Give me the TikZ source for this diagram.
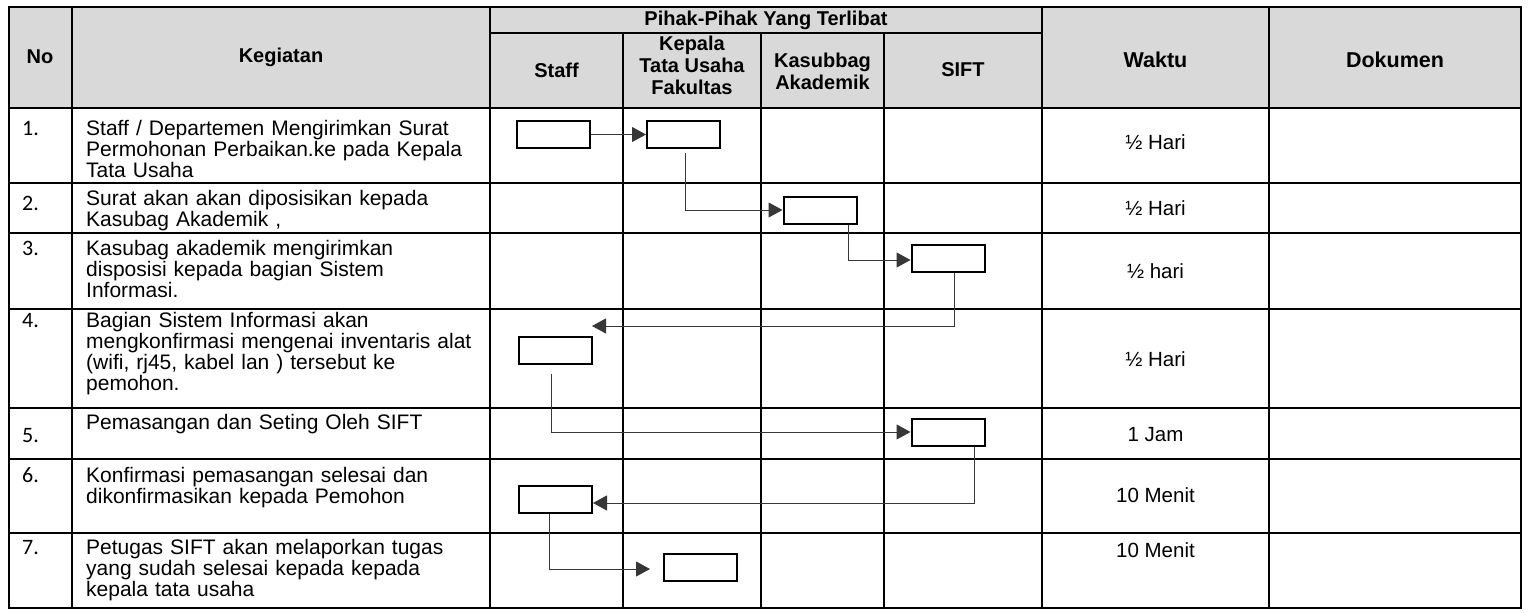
\documentclass[tikz,border=0pt]{standalone}
\usepackage{fontspec}
\setmainfont{Liberation Sans}
\newfontfamily\numfont{Carlito}
\usetikzlibrary{arrows.meta}
\definecolor{hdrgray}{RGB}{217,217,217}
\definecolor{conncol}{RGB}{55,55,55}
\begin{document}
\begin{tikzpicture}[x=1pt,y=-1pt,
  grid/.style={line width=2pt,black,line cap=rect},
  stepbox/.style={draw=black,line width=2pt,minimum width=73pt,minimum height=27pt,inner sep=0pt,fill=white},
  conn/.style={draw=conncol,line width=1pt},
  arr/.style={-{Triangle[length=14pt,width=15pt]}},
  rowtext/.style={anchor=base west,inner sep=0pt,text width=420pt,align=left,font=\fontsize{21}{21}\selectfont},
  numtext/.style={anchor=base west,inner sep=0pt,font=\numfont\fontsize{22}{22}\selectfont},
  hdr/.style={font=\bfseries\fontsize{20}{22}\selectfont,align=center,inner sep=0pt},
  hdrbig/.style={font=\bfseries\fontsize{21.5}{22}\selectfont,align=center,inner sep=0pt},
  wtext/.style={anchor=base,inner sep=0pt,font=\fontsize{20.5}{21}\selectfont}
]
\useasboundingbox (0,0) rectangle (1540,613);
\fill[white] (0,0) rectangle (1540,613);
\fill[hdrgray] (9,7) rectangle (1521,108);

% grid
\foreach \yy in {7,108,183,233,309,408,459,533,608}
  \draw[grid] (9,\yy) -- (1521,\yy);
\draw[grid] (490,33) -- (1042,33);
\foreach \xx in {9,72,490,1042,1269,1521}
  \draw[grid] (\xx,7) -- (\xx,608);
\foreach \xx in {623,761,884}
  \draw[grid] (\xx,33) -- (\xx,608);

% header
\node[hdr] (hno) at (40,57) {No};
\node[hdr] (hkeg) at (281,57) {Kegiatan};
\node[hdr] (hpihak) at (766,20) {Pihak-Pihak Yang Terlibat};
\node[hdr] (hstaff) at (556.5,70) {Staff};
\node[hdr] (hkepala) at (692,65.5) {Kepala\\Tata Usaha\\Fakultas};
\node[hdr] (hkasub) at (822.5,71) {Kasubbag\\Akademik};
\node[hdr] (hsift) at (963,70) {SIFT};
\node[hdrbig] (hwaktu) at (1155.5,60) {Waktu};
\node[hdrbig] (hdok) at (1395,60) {Dokumen};

% numbers
\node[numtext] (n1) at (22,135.5) {1.};
\node[numtext] (n2) at (22,210.5) {2.};
\node[numtext] (n3) at (22,255.5) {3.};
\node[numtext] (n4) at (22,327.5) {4.};
\node[numtext] (n5) at (22,442.5) {5.};
\node[numtext] (n6) at (22,482.5) {6.};
\node[numtext] (n7) at (22,554.5) {7.};

% activities
\node[rowtext] (t1) at (86,135.5) {Staff / Departemen Mengirimkan Surat\\Permohonan Perbaikan.ke pada Kepala\\Tata Usaha};
\node[rowtext] (t2) at (86,205.5) {Surat akan akan diposisikan kepada\\Kasubag Akademik ,};
\node[rowtext] (t3) at (86,255.5) {Kasubag akademik mengirimkan\\disposisi kepada bagian Sistem\\Informasi.};
\node[rowtext] (t4) at (86,327.5) {Bagian Sistem Informasi akan\\mengkonfirmasi mengenai inventaris alat\\(wifi, rj45, kabel lan ) tersebut ke\\pemohon.};
\node[rowtext] (t5) at (86,429.5) {Pemasangan dan Seting Oleh SIFT};
\node[rowtext] (t6) at (86,482.5) {Konfirmasi pemasangan selesai dan\\dikonfirmasikan kepada Pemohon};
\node[rowtext] (t7) at (86,554.5) {Petugas SIFT akan melaporkan tugas\\yang sudah selesai kepada kepada\\kepala tata usaha};

% waktu
\node[wtext] (w1) at (1155.5,149) {½ Hari};
\node[wtext] (w2) at (1155.5,215) {½ Hari};
\node[wtext] (w3) at (1155.5,278) {½ hari};
\node[wtext] (w4) at (1155.5,366) {½ Hari};
\node[wtext] (w5) at (1155.5,441) {1 Jam};
\node[wtext] (w6) at (1155.5,502) {10 Menit};
\node[wtext] (w7) at (1155.5,557) {10 Menit};

% process boxes
\node[stepbox] (b1) at (553.5,134.5) {};
\node[stepbox] (b2) at (683.5,134.5) {};
\node[stepbox] (b3) at (820,210) {};
\node[stepbox] (b4) at (948,258) {};
\node[stepbox] (b5) at (555.5,350.5) {};
\node[stepbox] (b6) at (948,432) {};
\node[stepbox] (b7) at (555.5,499) {};
\node[stepbox] (b8) at (700.5,567.5) {};
\coordinate (c4) at (592,326);
\coordinate (c7) at (650,569);

% connectors
\draw[conn,arr] (b1.east) -- (b2.west);
\draw[conn,arr] ([xshift=1.5pt,yshift=-4pt]b2.south) |- (b3.west);
\draw[conn,arr] ([xshift=28pt]b3.south) |- ([yshift=-2pt]b4.west);
\draw[conn,arr] ([xshift=6pt]b4.south) |- (c4);
\draw[conn,arr] ([xshift=-4.5pt,yshift=-9pt]b5.south) |- (b6.west);
\draw[conn,arr] ([xshift=26pt]b6.south) |- ([yshift=-4pt]b7.east);
\draw[conn,arr] ([xshift=-6.5pt]b7.south) |- (c7);
\end{tikzpicture}
\end{document}
